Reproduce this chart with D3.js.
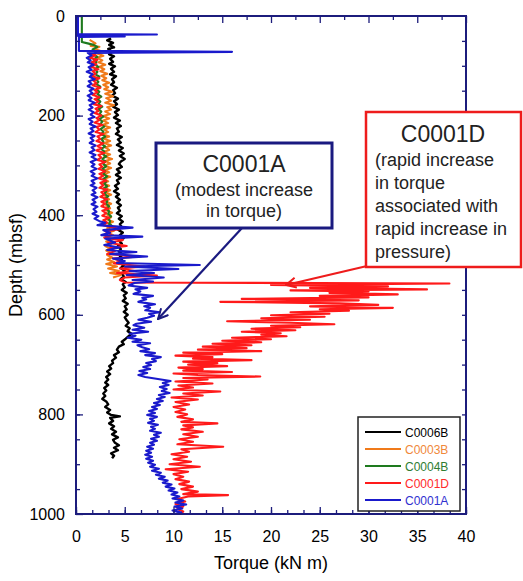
<!DOCTYPE html>
<html><head><meta charset="utf-8">
<script src="https://cdn.jsdelivr.net/npm/d3@7"></script>
<style>
body{margin:0;background:#fff;}
svg{display:block;font-family:"Liberation Sans",Arial,sans-serif;}
</style></head>
<body>
<svg id="chart" width="523" height="581"></svg>
<script>
// ---- data: [depth (mbsf), torque (kN m)] ----
const seriesNames = ["C0006B","C0003B","C0004B","C0001D","C0001A"];
const seriesColors = ["#000000","#f07a1a","#1e7a1e","#ff1a1a","#1a1acc"];
const legendTextColors = ["#000000","#f0883a","#2e7d32","#ff2a2a","#3030d0"];
const xTickLabels = [0,5,10,15,20,25,30,35,40];
const yTickLabels = [0,200,400,600,800,1000];

const c0006B = [[45,3.6],[49,3.2],[54,3.8],[58,3.4],[63,3.9],[66,3.3],[72,3.7],[77,3.4],[81,3.9],[86,3.5],[92,3.8],[96,3.4],[101,4.0],[106,3.6],[112,3.9],[117,3.5],[121,4.1],[127,3.7],[133,3.9],[138,3.6],[144,4.2],[149,3.8],[155,4.0],[160,3.7],[166,4.3],[171,3.9],[177,4.2],[182,3.8],[188,4.4],[193,4.0],[199,4.3],[204,3.9],[210,4.5],[215,4.1],[221,4.6],[226,4.2],[232,4.4],[237,4.1],[243,4.7],[248,4.3],[254,4.6],[259,4.2],[265,4.8],[270,4.4],[276,4.9],[281,4.5],[287,5.0],[292,4.6],[297,4.4],[303,4.7],[308,4.2],[314,4.5],[319,4.1],[325,4.6],[330,4.2],[336,4.4],[341,4.0],[347,4.3],[352,3.9],[358,4.4],[363,4.1],[369,4.5],[374,4.2],[380,4.6],[385,4.3],[391,4.5],[396,4.2],[402,4.7],[407,4.4],[413,4.8],[418,4.5],[424,4.7],[429,4.3],[435,4.8],[440,4.5],[446,4.9],[451,4.4],[457,4.7],[462,4.3],[468,4.6],[473,4.4],[479,4.8],[484,4.5],[490,4.7],[495,4.4],[501,4.9],[506,4.6],[512,5.0],[517,4.7],[523,4.9],[528,4.6],[534,5.1],[539,4.8],[545,5.0],[550,4.7],[556,5.2],[561,4.9],[567,5.1],[572,4.8],[578,5.3],[583,5.0],[589,5.2],[594,4.9],[600,5.3],[605,5.0],[611,5.2],[616,5.4],[622,5.1],[627,5.5],[633,5.3],[638,5.7],[643,5.4],[648,5.1],[654,4.7],[659,4.9],[664,4.4],[670,4.2],[675,4.4],[681,3.9],[686,4.1],[692,3.7],[697,3.8],[703,3.4],[708,3.6],[714,3.2],[719,3.5],[725,3.1],[730,3.3],[736,3.0],[741,3.3],[747,2.9],[752,3.1],[758,2.8],[763,3.0],[769,2.7],[774,3.1],[780,3.3],[785,3.0],[791,3.5],[796,3.2],[801,3.6],[804,4.5],[807,3.5],[813,3.8],[818,3.4],[824,3.9],[829,3.6],[835,4.1],[840,3.7],[846,4.3],[851,3.8],[857,4.0],[862,4.4],[867,3.9],[872,4.3],[878,3.6],[883,3.9],[888,3.7]];

const c0003B = [[48,1.4],[55,2.0],[60,1.5],[62,2.4],[66,1.9],[71,2.6],[75,2.1],[80,2.8],[84,2.2],[89,2.7],[93,2.3],[98,3.0],[102,2.4],[107,2.9],[111,2.5],[116,3.2],[120,2.6],[125,3.1],[129,2.7],[134,3.4],[138,2.8],[143,3.3],[147,2.9],[152,3.7],[156,3.0],[161,3.8],[165,3.1],[170,3.6],[174,3.0],[179,3.9],[183,3.2],[188,3.6],[192,3.0],[197,3.5],[201,2.8],[206,3.4],[210,2.8],[215,3.3],[219,2.7],[224,3.5],[228,2.9],[233,3.3],[237,2.7],[242,3.4],[246,2.8],[251,3.5],[255,2.9],[260,3.6],[264,3.0],[269,3.4],[273,2.8],[278,3.5],[282,2.9],[287,3.7],[291,3.0],[296,3.5],[300,2.9],[305,3.6],[309,3.0],[314,3.4],[318,2.8],[323,3.5],[327,2.9],[332,3.3],[336,2.8],[341,3.4],[345,2.9],[350,3.5],[354,3.0],[359,3.6],[363,3.0],[368,3.4],[372,3.0],[377,3.6],[381,3.1],[386,3.5],[390,3.1],[395,3.7],[399,3.2],[404,3.6],[408,3.1],[413,3.8],[417,3.3],[422,3.7],[426,3.2],[431,3.9],[435,3.3],[440,3.8],[444,3.2],[449,3.7],[453,3.1],[458,3.6],[462,3.0],[467,3.5],[471,3.1],[476,3.6],[480,3.2],[485,3.7],[489,3.2],[494,3.9],[498,3.1],[503,4.2],[507,3.3],[512,4.4],[516,3.5],[520,4.6],[525,3.8]];

const c0004B = [[0,0.6],[52,0.6],[55,1.2],[58,1.8],[62,2.2],[67,1.7],[72,2.1],[77,1.8],[82,2.2],[87,1.8],[92,2.1],[97,1.9],[102,2.3],[107,1.9],[112,2.2],[117,2.0],[122,2.4],[127,2.0],[132,2.3],[137,2.1],[142,2.5],[147,2.1],[152,2.4],[157,2.2],[162,2.6],[167,2.2],[172,2.5],[177,2.3],[182,2.7],[187,2.3],[192,2.6],[197,2.4],[202,2.8],[207,2.4],[212,2.7],[217,2.5],[222,2.9],[227,2.5],[232,2.8],[237,2.6],[242,3.0],[247,2.6],[252,2.8],[257,2.6],[262,3.0],[267,2.6],[272,2.9],[277,2.7],[282,3.1],[287,2.7],[292,3.0],[297,2.8],[302,3.1],[307,2.7],[312,3.0],[317,2.8],[322,3.2],[327,2.8],[332,3.1],[337,2.9],[342,3.2],[347,2.8],[352,3.1],[357,2.9],[362,3.3],[367,2.9],[372,3.2],[377,3.1],[382,3.4],[387,3.1],[392,3.4],[397,3.3],[402,3.6],[407,3.3],[412,3.5],[417,3.4],[422,3.7],[425,3.4]];

const c0001D = [[75,1.3],[79,2.0],[84,1.4],[88,2.2],[93,1.6],[97,2.1],[102,1.5],[107,2.3],[111,1.7],[116,2.0],[121,1.6],[125,2.4],[130,1.8],[135,2.1],[139,1.7],[144,2.5],[149,1.9],[153,2.2],[158,1.7],[163,2.4],[167,1.9],[172,2.3],[177,1.8],[181,2.6],[186,2.0],[191,2.3],[195,1.9],[200,2.6],[205,2.1],[209,2.4],[214,1.9],[219,2.7],[223,2.1],[228,2.4],[233,2.0],[237,2.8],[242,2.2],[247,2.5],[251,2.1],[256,2.8],[261,2.2],[265,2.6],[270,2.1],[275,2.9],[279,2.3],[284,2.6],[289,2.2],[293,3.0],[298,2.4],[303,2.7],[307,2.3],[312,3.0],[317,2.4],[321,2.8],[326,2.3],[331,3.1],[335,2.5],[340,2.8],[345,2.4],[349,3.2],[354,2.6],[359,2.9],[363,2.5],[368,3.2],[373,2.6],[377,3.0],[382,2.6],[387,3.3],[391,2.7],[396,3.1],[401,2.7],[405,3.4],[410,2.8],[415,3.2],[420,2.8],[428,4.5],[432,3.0],[440,3.6],[445,2.9],[450,4.8],[455,3.3],[462,5.2],[466,3.5],[472,4.0],[478,3.2],[483,6.5],[487,3.8],[492,4.6],[497,3.9],[503,7.0],[507,4.5],[512,6.0],[516,4.2],[521,8.3],[525,5.0],[530,4.5],[535,5.0],[537,38.3],[540,20.0],[543,32.0],[546,24.0],[549,36.0],[551,22.0],[553,30.0],[556,26.0],[559,33.0],[562,25.0],[565,30.0],[568,17.0],[571,29.0],[574,14.8],[577,27.0],[580,31.0],[583,24.0],[586,32.5],[589,25.0],[592,28.0],[595,22.0],[598,26.0],[601,20.0],[604,25.5],[607,19.0],[610,24.0],[613,15.5],[616,22.0],[619,26.5],[622,20.0],[625,23.0],[628,18.0],[631,22.5],[634,17.0],[637,21.0],[640,19.0],[643,21.6],[646,16.0],[649,20.0],[652,15.0],[655,19.0],[658,14.0],[661,18.0],[664,13.0],[667,17.5],[670,12.5],[673,19.0],[676,11.0],[679,15.0],[682,10.2],[685,14.0],[688,12.0],[691,18.0],[694,11.0],[697,14.5],[700,11.5],[703,15.5],[706,10.5],[709,13.0],[712,11.0],[715,16.0],[718,10.0],[721,12.5],[724,18.9],[727,11.0],[730,13.5],[734,10.2],[738,14.0],[742,10.5],[746,12.0],[750,10.0],[754,14.8],[758,11.0],[762,13.0],[766,9.8],[770,12.5],[775,10.2],[780,11.6],[785,10.0],[790,11.2],[795,10.2],[800,11.4],[805,10.4],[810,12.0],[815,10.8],[818,14.5],[822,11.0],[826,12.0],[830,10.8],[835,13.0],[840,11.0],[845,12.5],[850,10.6],[855,12.0],[860,10.4],[865,15.1],[870,10.8],[875,11.6],[880,9.8],[885,11.4],[890,10.0],[895,11.8],[900,9.6],[905,12.7],[910,9.2],[915,11.5],[920,10.0],[925,11.0],[930,10.2],[935,11.6],[940,10.6],[945,12.0],[950,10.8],[955,12.5],[960,11.0],[962,15.6],[965,11.5],[970,10.4],[975,11.2],[980,10.2],[985,11.0],[990,10.4],[995,11.0],[1000,10.6]];

const c0001A = [[0,0.2],[36,0.2],[37,8.3],[38,0.2],[40,0.2],[41,5.0],[42,0.3],[70,0.3],[72,16.0],[74,1.2],[79,1.6],[84,1.1],[89,1.5],[93,1.2],[98,1.8],[103,1.3],[108,1.6],[112,1.1],[117,1.7],[122,1.4],[127,1.9],[131,1.3],[136,1.6],[141,1.2],[146,1.8],[150,1.4],[155,1.7],[160,1.2],[165,1.6],[169,1.3],[174,1.9],[179,1.4],[184,1.7],[188,1.3],[193,1.8],[198,1.5],[203,1.9],[207,1.3],[212,1.7],[217,1.4],[222,2.0],[226,1.5],[231,1.8],[236,1.3],[241,1.9],[245,1.5],[250,1.8],[255,1.4],[260,2.0],[264,1.6],[269,1.9],[274,1.4],[279,2.0],[283,1.6],[288,2.1],[293,1.5],[298,1.9],[302,1.6],[307,2.1],[312,1.5],[317,1.9],[321,1.6],[326,2.2],[331,1.6],[336,1.9],[340,1.5],[345,2.1],[350,1.7],[355,2.0],[359,1.6],[364,2.2],[369,1.7],[374,2.0],[378,1.6],[383,2.2],[388,1.8],[393,2.1],[397,1.7],[402,2.3],[407,1.9],[412,2.4],[415,3.0],[420,2.2],[425,5.8],[430,2.8],[435,3.5],[440,2.6],[443,6.8],[447,3.0],[455,4.0],[460,2.9],[465,4.5],[470,3.2],[474,6.2],[478,3.5],[483,7.3],[487,3.8],[492,5.0],[496,4.2],[500,12.7],[503,5.0],[508,10.5],[512,5.5],[516,8.0],[520,5.2],[525,9.0],[530,5.8],[533,7.9],[536,6.0],[541,5.4],[546,7.3],[549,6.1],[553,6.6],[558,5.9],[562,7.9],[566,6.8],[569,7.2],[574,6.4],[579,8.1],[583,7.0],[586,7.6],[591,7.1],[595,8.6],[598,7.5],[602,8.0],[606,7.3],[610,6.4],[614,7.7],[618,6.2],[621,5.9],[626,7.0],[630,5.8],[634,7.4],[638,5.5],[642,6.1],[646,5.3],[650,6.7],[654,5.8],[657,7.6],[661,6.3],[665,6.8],[669,7.5],[673,6.6],[677,8.1],[681,7.1],[685,8.7],[689,7.8],[693,8.2],[697,7.2],[701,7.7],[705,6.9],[709,7.6],[713,6.5],[717,7.3],[721,6.4],[725,7.1],[729,8.4],[733,9.7],[737,8.9],[741,9.5],[745,8.6],[749,9.3],[753,8.8],[757,9.6],[761,8.5],[765,9.1],[769,8.3],[773,8.9],[777,8.0],[781,8.6],[785,7.8],[789,8.3],[793,7.5],[797,8.1],[801,7.3],[805,8.3],[809,7.6],[813,8.0],[817,7.4],[821,8.4],[825,7.7],[829,8.1],[833,7.6],[837,8.7],[841,8.0],[845,8.5],[849,7.7],[853,8.3],[857,7.6],[861,8.0],[865,7.3],[869,7.9],[873,7.2],[877,7.7],[881,7.1],[885,7.8],[889,7.2],[893,7.9],[897,7.4],[901,8.1],[905,7.6],[909,8.5],[913,7.8],[917,8.7],[921,8.2],[925,9.1],[929,8.5],[933,9.4],[937,8.9],[941,9.8],[945,9.2],[949,10.1],[953,9.5],[957,10.4],[961,9.8],[965,10.6],[969,9.9],[973,11.0],[977,10.2],[981,11.3],[985,10.1],[989,10.9],[993,9.9],[997,10.8],[1000,10.2]];

const seriesData = [c0006B, c0003B, c0004B, c0001D, c0001A];

// ---- layout ----
const svg = d3.select("#chart");
const L = 76, R = 466, T = 16, B = 514;
const x = d3.scaleLinear().domain([0,40]).range([L,R]);
const y = d3.scaleLinear().domain([0,1000]).range([T,B]);
const frameColor = "#1c1c7c";

// series lines
const line = d3.line().x(d => x(d[1])).y(d => y(d[0]));
const gLines = svg.append("g");
seriesData.forEach((s,i) => {
  gLines.append("path").datum(s)
    .attr("d", line).attr("fill","none")
    .attr("stroke", seriesColors[i])
    .attr("stroke-width", i===0 ? 2.4 : 2.1)
    .attr("stroke-linejoin","round");
});

// axes
function styleAxis(g){
  g.select(".domain").remove();
  g.selectAll(".tick line").attr("stroke", frameColor).attr("stroke-width",1.3);
  g.selectAll(".tick text").attr("fill","#000").style("font-size","16px")
    .style("font-family",'"Liberation Sans",Arial,sans-serif');
}
svg.append("g").attr("transform",`translate(0,${B})`)
  .call(d3.axisBottom(x).tickValues(xTickLabels).tickSize(-7).tickPadding(17).tickFormat(d3.format("d")))
  .call(styleAxis);
svg.append("g").attr("transform",`translate(0,${B})`)
  .call(d3.axisBottom(x).tickValues(d3.range(0,40.01,5/3)).tickSize(-4).tickFormat(""))
  .call(styleAxis);
svg.append("g").attr("transform",`translate(0,${T})`)
  .call(d3.axisTop(x).tickValues(xTickLabels).tickSize(-7).tickFormat(""))
  .call(styleAxis);
svg.append("g").attr("transform",`translate(0,${T})`)
  .call(d3.axisTop(x).tickValues(d3.range(2.5,40,5)).tickSize(-4).tickFormat(""))
  .call(styleAxis);
svg.append("g").attr("transform",`translate(${L},0)`)
  .call(d3.axisLeft(y).tickValues(yTickLabels).tickSize(-7).tickPadding(11).tickFormat(d3.format("d")))
  .call(styleAxis);
svg.append("g").attr("transform",`translate(${L},0)`)
  .call(d3.axisLeft(y).tickValues(d3.range(50,1000,50)).tickSize(-4).tickFormat(""))
  .call(styleAxis);
svg.append("g").attr("transform",`translate(${R},0)`)
  .call(d3.axisRight(y).tickValues(d3.range(50,1000,50)).tickSize(-4).tickFormat(""))
  .call(styleAxis);

// frame
svg.append("rect").attr("x",L).attr("y",T).attr("width",R-L).attr("height",B-T)
  .attr("fill","none").attr("stroke",frameColor).attr("stroke-width",2);

// axis titles
svg.append("text").attr("x",(L+R)/2).attr("y",569).attr("text-anchor","middle")
  .style("font-size","18px").text("Torque (kN m)");
svg.append("text").attr("transform",`translate(22,${(T+B)/2}) rotate(-90)`)
  .attr("text-anchor","middle").style("font-size","18px").text("Depth (mbsf)");

// legend
const lg = svg.append("g");
lg.append("rect").attr("x",358).attr("y",417).attr("width",102).attr("height",94)
  .attr("fill","#fff").attr("stroke","#222").attr("stroke-width",1.5);
seriesNames.forEach((n,i) => {
  const yy = 432 + i*17;
  lg.append("line").attr("x1",365).attr("x2",401).attr("y1",yy).attr("y2",yy)
    .attr("stroke",seriesColors[i]).attr("stroke-width",2);
  lg.append("text").attr("x",405).attr("y",yy+4.5).style("font-size","12px")
    .attr("fill",legendTextColors[i]).text(n);
});

// annotations
const defs = svg.append("defs");
function marker(id,color){
  defs.append("marker").attr("id",id).attr("viewBox","0 0 12 12").attr("refX",11).attr("refY",6)
    .attr("markerWidth",12).attr("markerHeight",12).attr("markerUnits","userSpaceOnUse").attr("orient","auto")
    .append("path").attr("d","M1,1 L11,6 L1,11").attr("fill","none").attr("stroke",color).attr("stroke-width",2);
}
marker("arrA","#1a1a80");
marker("arrD","#ee1c1c");

svg.append("line").attr("x1",242).attr("y1",228).attr("x2",158).attr("y2",319)
  .attr("stroke","#1a1a80").attr("stroke-width",2.2).attr("marker-end","url(#arrA)");
svg.append("rect").attr("x",156).attr("y",143).attr("width",176).attr("height",85)
  .attr("fill","#fff").attr("stroke","#1a1a80").attr("stroke-width",3);
const tA = svg.append("g").attr("text-anchor","middle").attr("fill","#222");
tA.append("text").attr("x",244).attr("y",172).style("font-size","23px").text("C0001A");
tA.append("text").attr("x",244).attr("y",196).style("font-size","18px").text("(modest increase");
tA.append("text").attr("x",244).attr("y",217).style("font-size","18px").text("in torque)");

svg.append("line").attr("x1",367).attr("y1",266).attr("x2",286).attr("y2",285)
  .attr("stroke","#ee1c1c").attr("stroke-width",2.2).attr("marker-end","url(#arrD)");
svg.append("rect").attr("x",366).attr("y",112).attr("width",155).attr("height",155)
  .attr("fill","#fff").attr("stroke","#ee1c1c").attr("stroke-width",2.5);
const tD = svg.append("g").attr("fill","#222");
tD.append("text").attr("x",443).attr("y",142).attr("text-anchor","middle").style("font-size","23px").text("C0001D");
["(rapid increase","in torque","associated with","rapid increase in","pressure)"].forEach((s,i)=>{
  tD.append("text").attr("x",375).attr("y",166+i*23).style("font-size","18px").text(s);
});
</script>
</body></html>
